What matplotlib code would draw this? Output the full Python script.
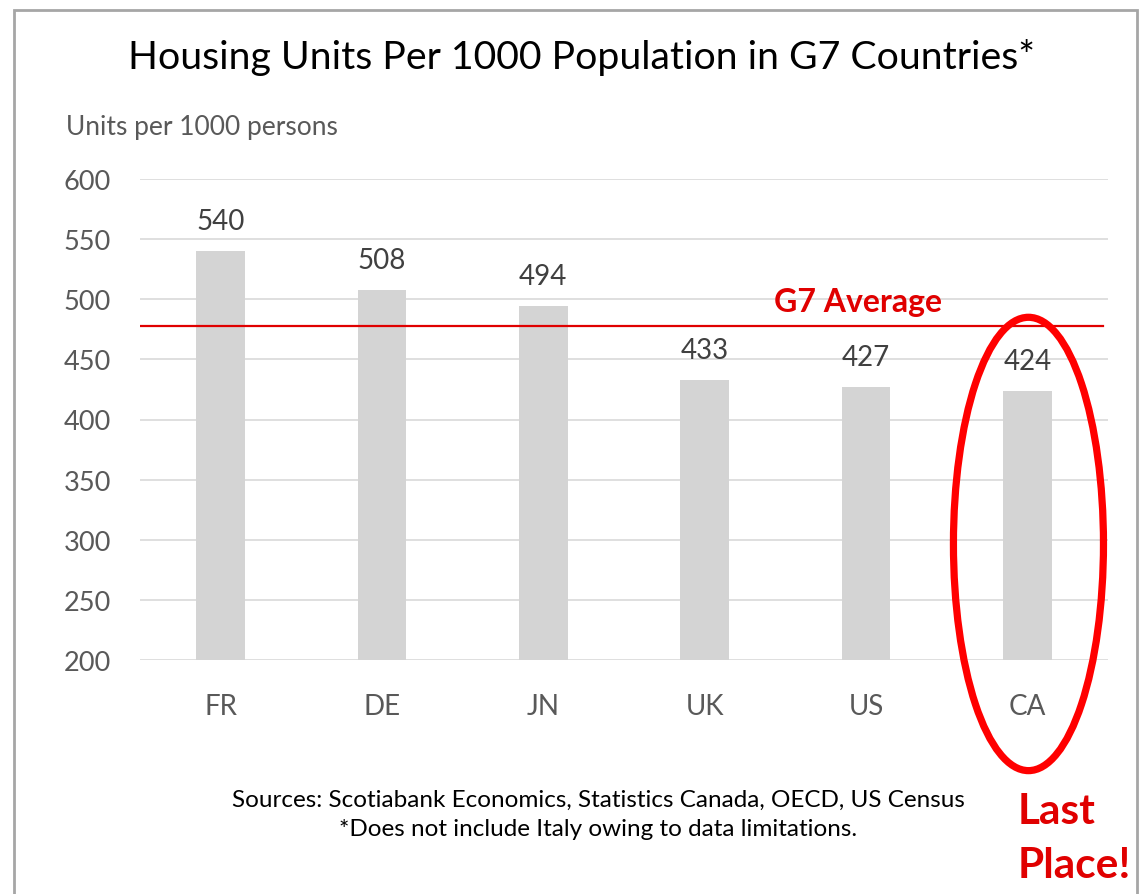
import matplotlib
matplotlib.use("Agg")
import matplotlib.pyplot as plt
from matplotlib.patches import Ellipse, Rectangle

countries = ["FR", "DE", "JN", "UK", "US", "CA"]
units = [540, 508, 494, 433, 427, 424]
g7_average = 478
yticks = [200, 250, 300, 350, 400, 450, 500, 550, 600]

plt.rcParams['font.family'] = ['Lato', 'DejaVu Sans']

W, H = 1139, 895
fig = plt.figure(figsize=(W/100, H/100), dpi=100)
ax = fig.add_axes([140/W, 1-661/H, 968/W, (661-180)/H])

x = list(range(len(countries)))
ax.bar(x, [u - 200 for u in units], bottom=200, width=0.3, color="#d4d4d4", zorder=2)
for xi, u in zip(x, units):
    ax.text(xi, u + 25, str(u), ha="center", va="center", fontsize=20, color="#404040")

ax.set_ylim(200, 600)
ax.set_xlim(-0.5, 5.5)
ax.set_yticks(yticks)
ax.set_yticklabels([str(t) for t in yticks], fontsize=19.5, color="#595959")
ax.set_xticks(x)
ax.set_xticklabels(countries, fontsize=20, color="#595959")
ax.tick_params(axis="both", length=0)
ax.tick_params(axis="y", pad=21)
ax.tick_params(axis="x", pad=23.5)
ax.grid(axis="y", color="#d9d9d9", linewidth=1.2, zorder=0)
for s in ax.spines.values():
    s.set_visible(False)

ax.axhline(g7_average, xmin=0, xmax=0.995, color="#e00000", linewidth=1.6, zorder=3)
ax.text(3.95, 498, "G7 Average", color="#e00000", fontsize=23,
        fontweight="bold", ha="center", va="center")

ell = Ellipse((5.007, 296.5), width=0.93, height=377, fill=False,
              edgecolor="#ff0000", linewidth=5.2, zorder=5, clip_on=False)
ax.add_patch(ell)

fig.text(582/W, 1-57/H, "Housing Units Per 1000 Population in G7 Countries*",
         ha="center", va="center", fontsize=28.3, color="black")
fig.text(66/W, 1-128/H, "Units per 1000 persons", ha="left", va="center",
         fontsize=19, color="#595959")
fig.text(598/W, 1-800/H, "Sources: Scotiabank Economics, Statistics Canada, OECD, US Census",
         ha="center", va="center", fontsize=17.5, color="black")
fig.text(598/W, 1-830/H, "*Does not include Italy owing to data limitations.",
         ha="center", va="center", fontsize=17.5, color="black")
fig.text(1018/W, 1-812/H, "Last", ha="left", va="center", fontsize=30.5,
         fontweight="bold", color="#e00000")
fig.text(1018/W, 1-866/H, "Place!", ha="left", va="center", fontsize=30.5,
         fontweight="bold", color="#e00000")

fig.patches.append(Rectangle((14/W, -0.1), (1137-14)/W, 1.1 - 11/H, transform=fig.transFigure,
                             fill=False, edgecolor="#a6a6a6", linewidth=2, zorder=0))

fig.savefig("out.png", dpi=100)
